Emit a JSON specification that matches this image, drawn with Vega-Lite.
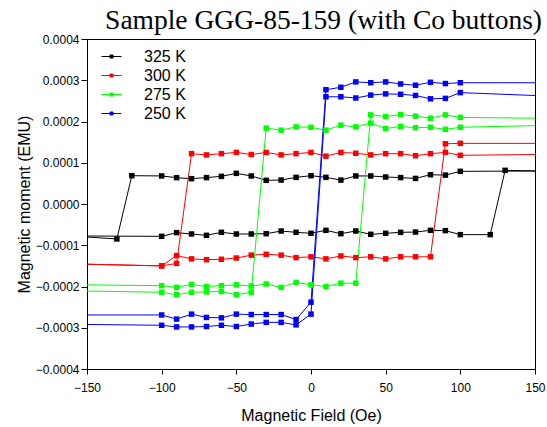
{
  "$schema": "https://vega.github.io/schema/vega-lite/v6.json",
  "width": 448,
  "height": 330,
  "autosize": {"type": "none"},
  "padding": {"left": 87, "top": 39, "right": 12, "bottom": 58},
  "background": "white",
  "title": {"text": "Sample GGG-85-159 (with Co buttons)", "anchor": "end", "font": "Liberation Serif", "fontSize": 27.5, "fontWeight": "normal", "color": "black", "baseline": "top", "offset": -1, "dx": -3},
  "config": {
    "view": {"stroke": "black", "strokeWidth": 1},
    "axis": {"domainColor": "black", "tickColor": "black", "labelColor": "black", "titleColor": "black", "labelFont": "Liberation Sans", "titleFont": "Liberation Sans", "labelFontSize": 12, "titleFontSize": 16, "titleFontWeight": "normal", "grid": false, "labelOverlap": false, "labelFlush": false}
  },
  "datasets": {
    "loops": [
      {"T": "325 K", "b": "down", "H": 150, "M": 0.0000800},
      {"T": "325 K", "b": "down", "H": 100, "M": 0.0000792},
      {"T": "325 K", "b": "down", "H": 90, "M": 0.0000700},
      {"T": "325 K", "b": "down", "H": 80, "M": 0.0000710},
      {"T": "325 K", "b": "down", "H": 70, "M": 0.0000620},
      {"T": "325 K", "b": "down", "H": 60, "M": 0.0000640},
      {"T": "325 K", "b": "down", "H": 50, "M": 0.0000654},
      {"T": "325 K", "b": "down", "H": 40, "M": 0.0000680},
      {"T": "325 K", "b": "down", "H": 30, "M": 0.0000680},
      {"T": "325 K", "b": "down", "H": 20, "M": 0.0000580},
      {"T": "325 K", "b": "down", "H": 10, "M": 0.0000646},
      {"T": "325 K", "b": "down", "H": 0, "M": 0.0000686},
      {"T": "325 K", "b": "down", "H": -10, "M": 0.0000646},
      {"T": "325 K", "b": "down", "H": -20, "M": 0.0000580},
      {"T": "325 K", "b": "down", "H": -30, "M": 0.0000574},
      {"T": "325 K", "b": "down", "H": -40, "M": 0.0000680},
      {"T": "325 K", "b": "down", "H": -50, "M": 0.0000743},
      {"T": "325 K", "b": "down", "H": -60, "M": 0.0000670},
      {"T": "325 K", "b": "down", "H": -70, "M": 0.0000640},
      {"T": "325 K", "b": "down", "H": -80, "M": 0.0000614},
      {"T": "325 K", "b": "down", "H": -90, "M": 0.0000638},
      {"T": "325 K", "b": "down", "H": -100, "M": 0.0000680},
      {"T": "325 K", "b": "down", "H": -120, "M": 0.0000686},
      {"T": "325 K", "b": "down", "H": -130, "M": -0.0000848},
      {"T": "325 K", "b": "down", "H": -150, "M": -0.0000800},
      {"T": "325 K", "b": "up", "H": -150, "M": -0.0000776},
      {"T": "325 K", "b": "up", "H": -100, "M": -0.0000784},
      {"T": "325 K", "b": "up", "H": -90, "M": -0.0000695},
      {"T": "325 K", "b": "up", "H": -80, "M": -0.0000727},
      {"T": "325 K", "b": "up", "H": -70, "M": -0.0000760},
      {"T": "325 K", "b": "up", "H": -60, "M": -0.0000687},
      {"T": "325 K", "b": "up", "H": -50, "M": -0.0000727},
      {"T": "325 K", "b": "up", "H": -40, "M": -0.0000727},
      {"T": "325 K", "b": "up", "H": -30, "M": -0.0000720},
      {"T": "325 K", "b": "up", "H": -20, "M": -0.0000655},
      {"T": "325 K", "b": "up", "H": -10, "M": -0.0000687},
      {"T": "325 K", "b": "up", "H": 0, "M": -0.0000710},
      {"T": "325 K", "b": "up", "H": 10, "M": -0.0000638},
      {"T": "325 K", "b": "up", "H": 20, "M": -0.0000719},
      {"T": "325 K", "b": "up", "H": 30, "M": -0.0000655},
      {"T": "325 K", "b": "up", "H": 40, "M": -0.0000735},
      {"T": "325 K", "b": "up", "H": 50, "M": -0.0000710},
      {"T": "325 K", "b": "up", "H": 60, "M": -0.0000687},
      {"T": "325 K", "b": "up", "H": 70, "M": -0.0000680},
      {"T": "325 K", "b": "up", "H": 80, "M": -0.0000638},
      {"T": "325 K", "b": "up", "H": 90, "M": -0.0000646},
      {"T": "325 K", "b": "up", "H": 100, "M": -0.0000743},
      {"T": "325 K", "b": "up", "H": 120, "M": -0.0000743},
      {"T": "325 K", "b": "up", "H": 130, "M": 0.0000816},
      {"T": "325 K", "b": "up", "H": 150, "M": 0.0000800},

      {"T": "300 K", "b": "down", "H": 150, "M": 0.000120},
      {"T": "300 K", "b": "down", "H": 100, "M": 0.000118},
      {"T": "300 K", "b": "down", "H": 90, "M": 0.000125},
      {"T": "300 K", "b": "down", "H": 80, "M": 0.000122},
      {"T": "300 K", "b": "down", "H": 70, "M": 0.000117},
      {"T": "300 K", "b": "down", "H": 60, "M": 0.000122},
      {"T": "300 K", "b": "down", "H": 50, "M": 0.000122},
      {"T": "300 K", "b": "down", "H": 40, "M": 0.000119},
      {"T": "300 K", "b": "down", "H": 30, "M": 0.000123},
      {"T": "300 K", "b": "down", "H": 20, "M": 0.000125},
      {"T": "300 K", "b": "down", "H": 10, "M": 0.000116},
      {"T": "300 K", "b": "down", "H": 0, "M": 0.000125},
      {"T": "300 K", "b": "down", "H": -10, "M": 0.000122},
      {"T": "300 K", "b": "down", "H": -20, "M": 0.000119},
      {"T": "300 K", "b": "down", "H": -30, "M": 0.000125},
      {"T": "300 K", "b": "down", "H": -40, "M": 0.000120},
      {"T": "300 K", "b": "down", "H": -50, "M": 0.000125},
      {"T": "300 K", "b": "down", "H": -60, "M": 0.000122},
      {"T": "300 K", "b": "down", "H": -70, "M": 0.000119},
      {"T": "300 K", "b": "down", "H": -80, "M": 0.000122},
      {"T": "300 K", "b": "down", "H": -90, "M": -0.000144},
      {"T": "300 K", "b": "down", "H": -100, "M": -0.000150},
      {"T": "300 K", "b": "down", "H": -150, "M": -0.000146},
      {"T": "300 K", "b": "up", "H": -150, "M": -0.000146},
      {"T": "300 K", "b": "up", "H": -100, "M": -0.000150},
      {"T": "300 K", "b": "up", "H": -90, "M": -0.000125},
      {"T": "300 K", "b": "up", "H": -80, "M": -0.000133},
      {"T": "300 K", "b": "up", "H": -70, "M": -0.000135},
      {"T": "300 K", "b": "up", "H": -60, "M": -0.000134},
      {"T": "300 K", "b": "up", "H": -50, "M": -0.000131},
      {"T": "300 K", "b": "up", "H": -40, "M": -0.000124},
      {"T": "300 K", "b": "up", "H": -30, "M": -0.000122},
      {"T": "300 K", "b": "up", "H": -20, "M": -0.000124},
      {"T": "300 K", "b": "up", "H": -10, "M": -0.000130},
      {"T": "300 K", "b": "up", "H": 0, "M": -0.000128},
      {"T": "300 K", "b": "up", "H": 10, "M": -0.000133},
      {"T": "300 K", "b": "up", "H": 20, "M": -0.000126},
      {"T": "300 K", "b": "up", "H": 30, "M": -0.000130},
      {"T": "300 K", "b": "up", "H": 40, "M": -0.000128},
      {"T": "300 K", "b": "up", "H": 50, "M": -0.000133},
      {"T": "300 K", "b": "up", "H": 60, "M": -0.000128},
      {"T": "300 K", "b": "up", "H": 70, "M": -0.000128},
      {"T": "300 K", "b": "up", "H": 80, "M": -0.000128},
      {"T": "300 K", "b": "up", "H": 90, "M": 0.000146},
      {"T": "300 K", "b": "up", "H": 100, "M": 0.000147},
      {"T": "300 K", "b": "up", "H": 150, "M": 0.000147},

      {"T": "275 K", "b": "down", "H": 150, "M": 0.000190},
      {"T": "275 K", "b": "down", "H": 100, "M": 0.000186},
      {"T": "275 K", "b": "down", "H": 90, "M": 0.000181},
      {"T": "275 K", "b": "down", "H": 80, "M": 0.000186},
      {"T": "275 K", "b": "down", "H": 70, "M": 0.000185},
      {"T": "275 K", "b": "down", "H": 60, "M": 0.000188},
      {"T": "275 K", "b": "down", "H": 50, "M": 0.000183},
      {"T": "275 K", "b": "down", "H": 40, "M": 0.000196},
      {"T": "275 K", "b": "down", "H": 30, "M": 0.000187},
      {"T": "275 K", "b": "down", "H": 20, "M": 0.000191},
      {"T": "275 K", "b": "down", "H": 10, "M": 0.000179},
      {"T": "275 K", "b": "down", "H": 0, "M": 0.000186},
      {"T": "275 K", "b": "down", "H": -10, "M": 0.000187},
      {"T": "275 K", "b": "down", "H": -20, "M": 0.000179},
      {"T": "275 K", "b": "down", "H": -30, "M": 0.000184},
      {"T": "275 K", "b": "down", "H": -40, "M": -0.000214},
      {"T": "275 K", "b": "down", "H": -50, "M": -0.000220},
      {"T": "275 K", "b": "down", "H": -60, "M": -0.000212},
      {"T": "275 K", "b": "down", "H": -70, "M": -0.000213},
      {"T": "275 K", "b": "down", "H": -80, "M": -0.000214},
      {"T": "275 K", "b": "down", "H": -90, "M": -0.000220},
      {"T": "275 K", "b": "down", "H": -100, "M": -0.000214},
      {"T": "275 K", "b": "down", "H": -150, "M": -0.000211},
      {"T": "275 K", "b": "up", "H": -150, "M": -0.000196},
      {"T": "275 K", "b": "up", "H": -100, "M": -0.000198},
      {"T": "275 K", "b": "up", "H": -90, "M": -0.000202},
      {"T": "275 K", "b": "up", "H": -80, "M": -0.000195},
      {"T": "275 K", "b": "up", "H": -70, "M": -0.000200},
      {"T": "275 K", "b": "up", "H": -60, "M": -0.000198},
      {"T": "275 K", "b": "up", "H": -50, "M": -0.000196},
      {"T": "275 K", "b": "up", "H": -40, "M": -0.000199},
      {"T": "275 K", "b": "up", "H": -30, "M": -0.000194},
      {"T": "275 K", "b": "up", "H": -20, "M": -0.000202},
      {"T": "275 K", "b": "up", "H": -10, "M": -0.000190},
      {"T": "275 K", "b": "up", "H": 0, "M": -0.000196},
      {"T": "275 K", "b": "up", "H": 10, "M": -0.000200},
      {"T": "275 K", "b": "up", "H": 20, "M": -0.000192},
      {"T": "275 K", "b": "up", "H": 30, "M": -0.000192},
      {"T": "275 K", "b": "up", "H": 40, "M": 0.000216},
      {"T": "275 K", "b": "up", "H": 50, "M": 0.000212},
      {"T": "275 K", "b": "up", "H": 60, "M": 0.000217},
      {"T": "275 K", "b": "up", "H": 70, "M": 0.000213},
      {"T": "275 K", "b": "up", "H": 80, "M": 0.000208},
      {"T": "275 K", "b": "up", "H": 90, "M": 0.000216},
      {"T": "275 K", "b": "up", "H": 100, "M": 0.000210},
      {"T": "275 K", "b": "up", "H": 150, "M": 0.000208},

      {"T": "250 K", "b": "down", "H": 150, "M": 0.000263},
      {"T": "250 K", "b": "down", "H": 100, "M": 0.000270},
      {"T": "250 K", "b": "down", "H": 90, "M": 0.000256},
      {"T": "250 K", "b": "down", "H": 80, "M": 0.000255},
      {"T": "250 K", "b": "down", "H": 70, "M": 0.000263},
      {"T": "250 K", "b": "down", "H": 60, "M": 0.000266},
      {"T": "250 K", "b": "down", "H": 50, "M": 0.000267},
      {"T": "250 K", "b": "down", "H": 40, "M": 0.000264},
      {"T": "250 K", "b": "down", "H": 30, "M": 0.000257},
      {"T": "250 K", "b": "down", "H": 20, "M": 0.000260},
      {"T": "250 K", "b": "down", "H": 10, "M": 0.000260},
      {"T": "250 K", "b": "down", "H": 0, "M": -0.000267},
      {"T": "250 K", "b": "down", "H": -10, "M": -0.000293},
      {"T": "250 K", "b": "down", "H": -20, "M": -0.000287},
      {"T": "250 K", "b": "down", "H": -30, "M": -0.000287},
      {"T": "250 K", "b": "down", "H": -40, "M": -0.000291},
      {"T": "250 K", "b": "down", "H": -50, "M": -0.000297},
      {"T": "250 K", "b": "down", "H": -60, "M": -0.000294},
      {"T": "250 K", "b": "down", "H": -70, "M": -0.000297},
      {"T": "250 K", "b": "down", "H": -80, "M": -0.000298},
      {"T": "250 K", "b": "down", "H": -90, "M": -0.000298},
      {"T": "250 K", "b": "down", "H": -100, "M": -0.000294},
      {"T": "250 K", "b": "down", "H": -150, "M": -0.000292},
      {"T": "250 K", "b": "up", "H": -150, "M": -0.000269},
      {"T": "250 K", "b": "up", "H": -100, "M": -0.000269},
      {"T": "250 K", "b": "up", "H": -90, "M": -0.000279},
      {"T": "250 K", "b": "up", "H": -80, "M": -0.000267},
      {"T": "250 K", "b": "up", "H": -70, "M": -0.000275},
      {"T": "250 K", "b": "up", "H": -60, "M": -0.000276},
      {"T": "250 K", "b": "up", "H": -50, "M": -0.000267},
      {"T": "250 K", "b": "up", "H": -40, "M": -0.000268},
      {"T": "250 K", "b": "up", "H": -30, "M": -0.000268},
      {"T": "250 K", "b": "up", "H": -20, "M": -0.000268},
      {"T": "250 K", "b": "up", "H": -10, "M": -0.000280},
      {"T": "250 K", "b": "up", "H": 0, "M": -0.000238},
      {"T": "250 K", "b": "up", "H": 10, "M": 0.000277},
      {"T": "250 K", "b": "up", "H": 20, "M": 0.000283},
      {"T": "250 K", "b": "up", "H": 30, "M": 0.000296},
      {"T": "250 K", "b": "up", "H": 40, "M": 0.000294},
      {"T": "250 K", "b": "up", "H": 50, "M": 0.000296},
      {"T": "250 K", "b": "up", "H": 60, "M": 0.000291},
      {"T": "250 K", "b": "up", "H": 70, "M": 0.000288},
      {"T": "250 K", "b": "up", "H": 80, "M": 0.000295},
      {"T": "250 K", "b": "up", "H": 90, "M": 0.000292},
      {"T": "250 K", "b": "up", "H": 100, "M": 0.000294},
      {"T": "250 K", "b": "up", "H": 150, "M": 0.000294}
    ]
  },
  "layer": [
    {
      "mark": {"type": "rule", "color": "black", "strokeWidth": 1},
      "encoding": {"x": {"datum": 0, "type": "quantitative"}}
    },
    {
      "mark": {"type": "rule", "color": "black", "strokeWidth": 1},
      "encoding": {"y": {"datum": 0, "type": "quantitative"}}
    },
    {
      "data": {"name": "loops"},
      "mark": {"type": "line", "strokeWidth": 1, "clip": true},
      "encoding": {
        "x": {"field": "H", "type": "quantitative",
              "scale": {"domain": [-150, 150], "nice": false, "zero": false},
              "axis": {"title": "Magnetic Field (Oe)", "values": [-150, -125, -100, -75, -50, -25, 0, 25, 50, 75, 100, 125, 150],
                       "labelExpr": "datum.value % 50 == 0 ? format(datum.value, 'd') : ''",
                       "tickSize": {"condition": {"test": "datum.value % 50 != 0", "value": 3}, "value": 5},
                       "labelPadding": 8, "titlePadding": 14}},
        "y": {"field": "M", "type": "quantitative",
              "scale": {"domain": [-0.0004, 0.0004], "nice": false, "zero": false},
              "axis": {"title": "Magnetic moment (EMU)",
                       "values": [-0.0004, -0.00035, -0.0003, -0.00025, -0.0002, -0.00015, -0.0001, -0.00005, 0, 0.00005, 0.0001, 0.00015, 0.0002, 0.00025, 0.0003, 0.00035, 0.0004],
                       "labelExpr": "abs(datum.value*10000 - round(datum.value*10000)) > 0.1 ? '' : format(datum.value, '.4f')",
                       "tickSize": {"condition": {"test": "abs(datum.value*10000 - round(datum.value*10000)) > 0.1", "value": 3}, "value": 6},
                       "labelPadding": 2, "titlePadding": 3}},
        "color": {"field": "T", "type": "nominal",
                  "scale": {"domain": ["325 K", "300 K", "275 K", "250 K"], "range": ["#000000", "#ff0000", "#00ff00", "#0000ff"]},
                  "legend": {"title": null, "orient": "none", "legendX": 9, "legendY": 7, "padding": 0, "rowPadding": 0,
                             "symbolType": "M-0.5,0H1.5M0.35,-0.15H0.65V0.15H0.35Z", "symbolSize": 400, "symbolStrokeWidth": 1,
                             "labelFont": "Liberation Sans", "labelFontSize": 16, "labelColor": "black", "labelOffset": 27}},
        "detail": {"field": "b", "type": "nominal"}
      }
    },
    {
      "data": {"name": "loops"},
      "transform": [{"filter": "abs(datum.H) < 150"}],
      "mark": {"type": "point", "shape": "square", "filled": true, "size": 30, "opacity": 1},
      "encoding": {
        "x": {"field": "H", "type": "quantitative"},
        "y": {"field": "M", "type": "quantitative"},
        "color": {"field": "T", "type": "nominal"}
      }
    }
  ]
}
